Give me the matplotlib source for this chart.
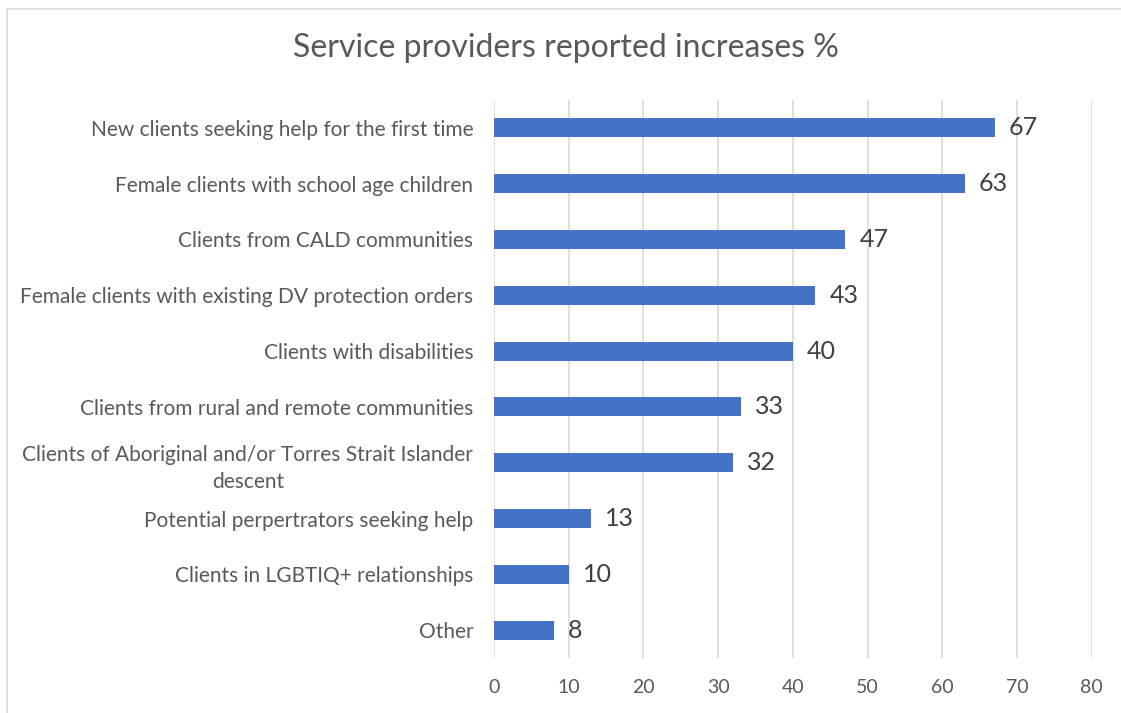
import matplotlib.pyplot as plt
from matplotlib.patches import Rectangle

categories = ["New clients seeking help for the first time",
              "Female clients with school age children",
              "Clients from CALD communities",
              "Female clients with existing DV protection orders",
              "Clients with disabilities",
              "Clients from rural and remote communities",
              "Clients of Aboriginal and/or Torres Strait Islander\ndescent",
              "Potential perpertrators seeking help",
              "Clients in LGBTIQ+ relationships",
              "Other"]
values = [67, 63, 47, 43, 40, 33, 32, 13, 10, 8]
xticks = [0, 10, 20, 30, 40, 50, 60, 70, 80]

plt.rcParams['font.family'] = ['Lato', 'DejaVu Sans']

fig = plt.figure(figsize=(11.21, 7.13), dpi=100)
ax = fig.add_axes([0.4407, 0.077, 0.5333, 0.783])

pos = list(range(len(categories)))
ax.barh(pos, values, height=0.34, color="#4472C4", zorder=3)
for p, v in zip(pos, values):
    ax.text(v + 1.9, p, str(v), va="center", ha="left", fontsize=18, color="#404040")

ax.set_ylim(len(categories) - 0.5, -0.5)
ax.set_xlim(0, 80)
ax.set_xticks(xticks)
ax.set_yticks(pos)
ax.set_yticklabels(categories, fontsize=15, color="#595959", ha="right",
                   multialignment="center", linespacing=1.45)
ax.tick_params(axis="y", length=0, pad=15)
ax.tick_params(axis="x", length=0, labelsize=14, labelcolor="#595959", pad=15)
ax.grid(axis="x", color="#d9d9d9", linewidth=1.2, zorder=0)
for s in ax.spines.values():
    s.set_visible(False)

fig.text(0.505, 0.932, "Service providers reported increases %", ha="center", va="center",
         fontsize=23, color="#595959")

fig.patches.append(Rectangle((0.0065, -0.1), 1.1, 1.088, transform=fig.transFigure,
                             fill=False, edgecolor="#d9d9d9", linewidth=1.2))

fig.savefig("out.png", dpi=100)
